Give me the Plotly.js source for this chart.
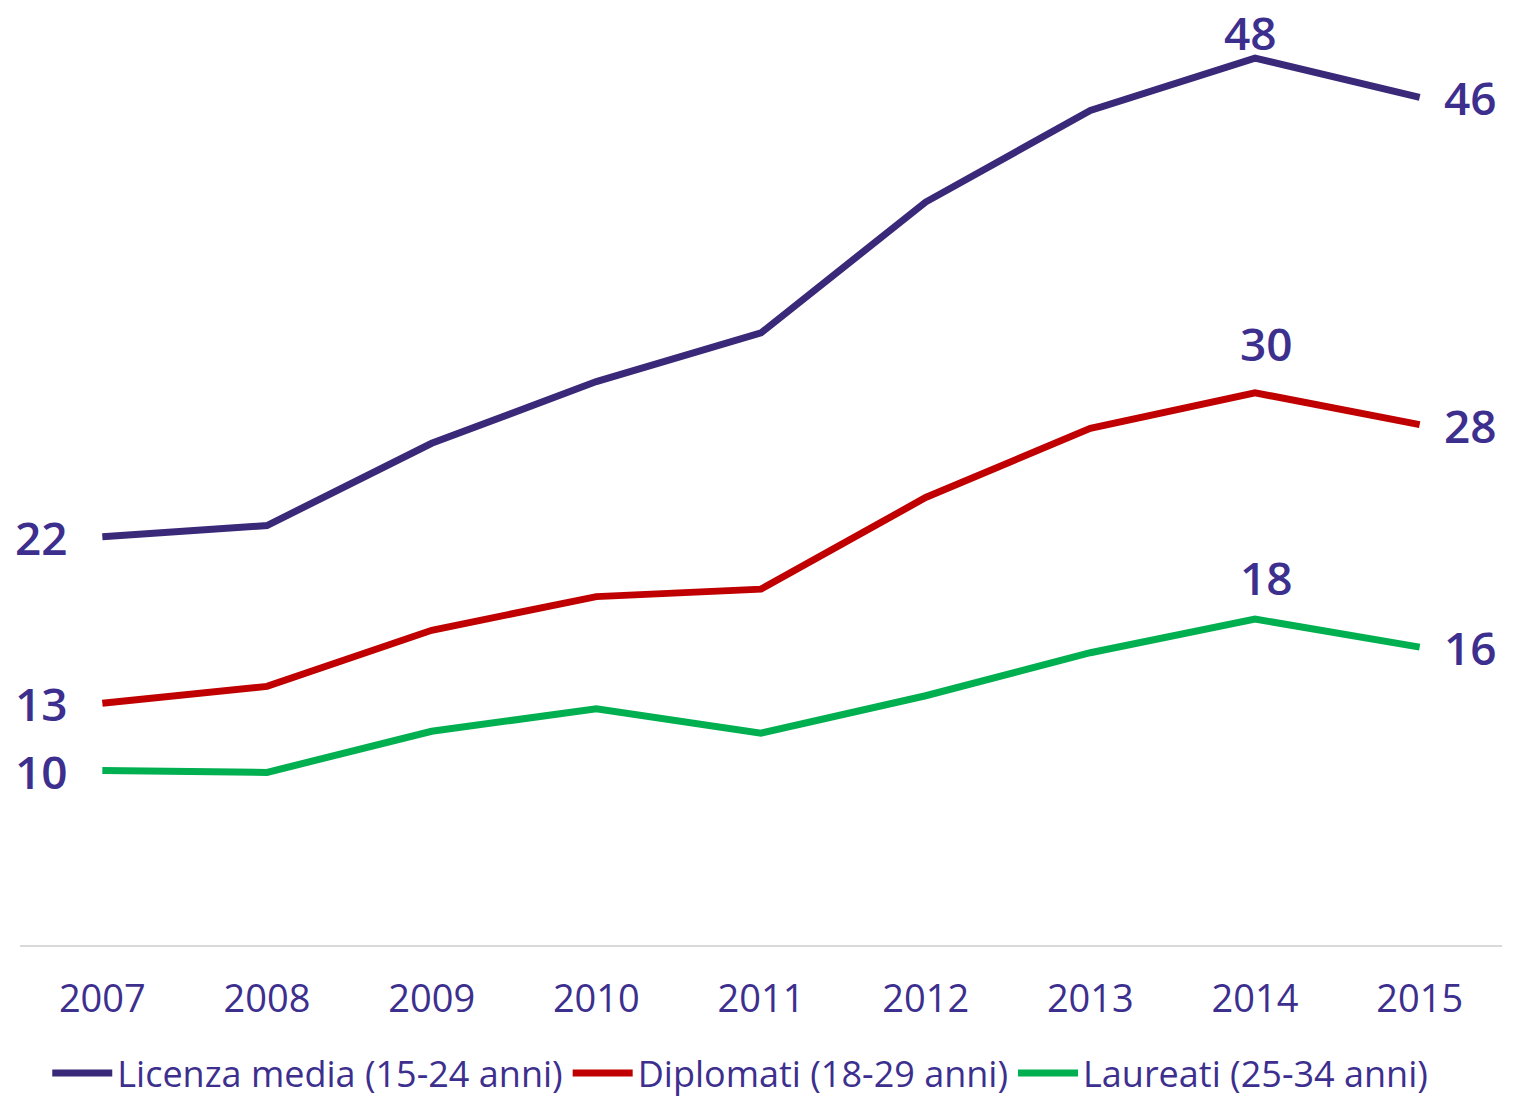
<!DOCTYPE html>
<html>
<head>
<meta charset="utf-8">
<script src="https://cdn.plot.ly/plotly-3.0.1.min.js"></script>
<style>
  html, body { margin: 0; padding: 0; background: #fff; }
  #chart { width: 1516px; height: 1103px; }
</style>
</head>
<body>
<div id="chart"></div>
<script>
// anni
var years = [2007, 2008, 2009, 2010, 2011, 2012, 2013, 2014, 2015];

// valori (%)
var licenzaMedia = [22.2, 22.8, 27.2, 30.5, 33.1, 40.1, 45.0, 47.8, 45.7];
var diplomati    = [13.3, 14.2, 17.2, 19.0, 19.4, 24.3, 28.0, 29.9, 28.2];
var laureati     = [9.7, 9.6, 11.8, 13.0, 11.7, 13.7, 16.0, 17.8, 16.3];

var seriesNames = ['Licenza media (15-24 anni)', 'Diplomati (18-29 anni)', 'Laureati (25-34 anni)'];
var seriesColors = ['#3a2878', '#c00000', '#00b050'];

var textColor = '#3d2f8e';
var labelFont = { family: 'Open Sans', size: 46, color: textColor, weight: 600 };

var allSeries = [licenzaMedia, diplomati, laureati];
// spostamento etichetta del massimo, per serie
var peakShift = [[-5, 26], [11, 50], [11, 42]];

var data = allSeries.map(function (vals, i) {
  return {
    x: years,
    y: vals,
    mode: 'lines',
    type: 'scatter',
    name: seriesNames[i],
    line: { color: seriesColors[i], width: 7 },
    hoverinfo: 'x+y'
  };
});

var annotations = [];
allSeries.forEach(function (vals, i) {
  var last = vals.length - 1;
  var peak = vals.indexOf(Math.max.apply(null, vals));
  annotations.push({
    x: years[0], y: vals[0], text: String(Math.round(vals[0])),
    xanchor: 'right', yanchor: 'middle', xshift: -32,
    showarrow: false, font: labelFont
  });
  annotations.push({
    x: years[last], y: vals[last], text: String(Math.round(vals[last])),
    xanchor: 'left', yanchor: 'middle', xshift: 22,
    showarrow: false, font: labelFont
  });
  annotations.push({
    x: years[peak], y: vals[peak], text: String(Math.round(vals[peak])),
    xanchor: 'center', yanchor: 'middle',
    xshift: peakShift[i][0], yshift: peakShift[i][1],
    showarrow: false, font: labelFont
  });
});

var layout = {
  width: 1516,
  height: 1103,
  margin: { l: 20, r: 14, t: 10, b: 158, autoexpand: false },
  paper_bgcolor: '#fff',
  plot_bgcolor: '#fff',
  showlegend: true,
  xaxis: {
    range: [2006.5, 2015.5],
    tickvals: years,
    ticktext: years.map(String),
    showgrid: false,
    zeroline: false,
    showline: true,
    linecolor: '#d9d9d9',
    linewidth: 2,
    ticks: '',
    ticklabelstandoff: 19,
    tickfont: { family: 'Open Sans', size: 38, color: textColor }
  },
  yaxis: {
    range: [0.37, 50.37],
    visible: false,
    showgrid: false,
    zeroline: false
  },
  legend: {
    orientation: 'h',
    x: 0.486,
    xanchor: 'center',
    y: -0.169,
    yanchor: 'bottom',
    itemwidth: 60,
    tracegroupgap: 0,
    font: { family: 'Open Sans', size: 36, color: textColor },
    bgcolor: 'rgba(0,0,0,0)'
  },
  annotations: annotations
};

Plotly.newPlot('chart', data, layout, { displayModeBar: false, staticPlot: true });
</script>
</body>
</html>
